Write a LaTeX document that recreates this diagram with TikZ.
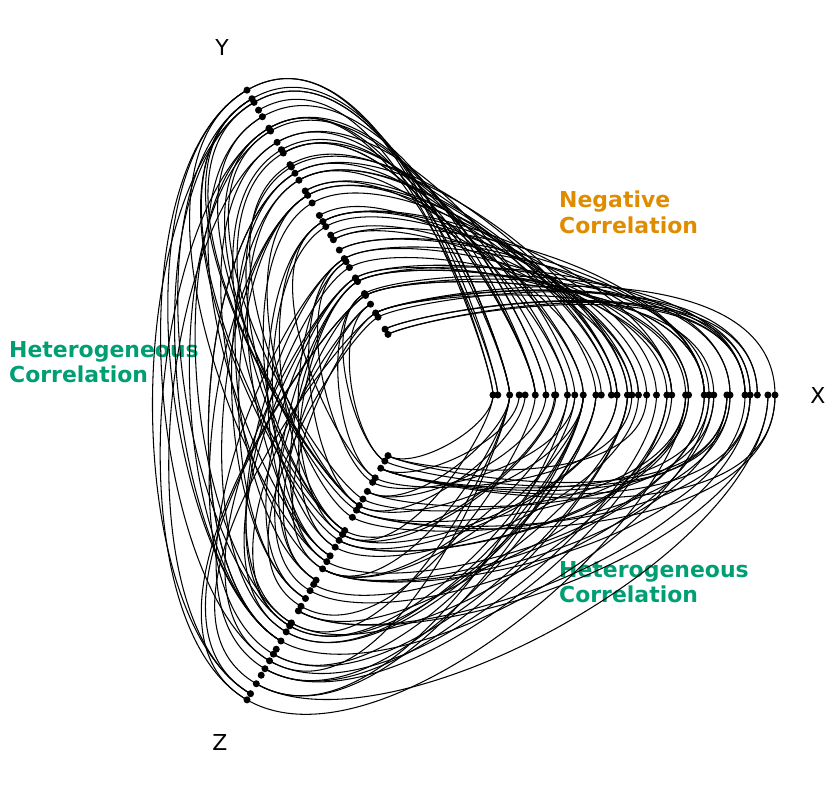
\documentclass[tikz,border=0pt]{standalone}
\usepackage{fontspec}
\setmainfont{DejaVu Sans}
\usetikzlibrary{positioning, calc}
\definecolor{negcolor}{RGB}{224,140,0}
\definecolor{hetcolor}{RGB}{0,158,115}
\tikzset{
  dot/.style={circle, fill=black, inner sep=0pt, minimum size=4pt},
  edge/.style={black, line width=0.6pt},
  axislabel/.style={font=\fontsize{12.5}{14}\selectfont},
  grouplabel/.style={font=\fontsize{12.5}{14.5}\selectfont\bfseries, align=left, anchor=north west}
}
\begin{document}
\begin{tikzpicture}[x=0.02cm, y=0.02cm]
\useasboundingbox (0,-790) rectangle (835,0);

% Axis labels
\node[axislabel] (labx) at (818,-395) {X};
\node[axislabel] (laby) at (222,-47) {Y};
\node[axislabel] (labz) at (220,-742) {Z};

% Group labels
\node[grouplabel, text=negcolor] (neg) at (553,-185) {Negative\\Correlation};
\node[grouplabel, text=hetcolor] (hetl) at (3,-335) {Heterogeneous\\Correlation};
\node[grouplabel, text=hetcolor] (hetr) at (553,-555) {Heterogeneous\\Correlation};

\begin{scope}[shift={(423,-395)}]
\pgfmathsetseed{4711}
% Radii of the dots on each axis
\foreach \ax in {x,y,z}{
  \foreach \i in {1,...,35}{
    \pgfmathsetmacro\r{70+282*(\i-1)/34+(\i>1)*(\i<35)*4*rand}
    \expandafter\xdef\csname r\ax\i\endcsname{\r}
  }
}
% Edges X-Y (negative)
\foreach \k in {1,...,60}{
  \pgfmathrandominteger{\i}{1}{35}\pgfmathrandominteger{\d}{-4}{4}
  \pgfmathtruncatemacro\j{max(1,min(35,36-\i+\d))}
  \edef\ra{\csname rx\i\endcsname}\edef\rb{\csname ry\j\endcsname}
  \draw[edge] (0:\ra) .. controls ($(0:\ra)+(90:0.45*\ra)$)
    and ($(120:\rb)+(30:0.45*\rb)$) .. (120:\rb);
}
% Edges Y-Z and Z-X (heterogeneous)
\foreach \aa/\ab/\angA/\angB in {y/z/120/240, z/x/240/360}{
  \foreach \k in {1,...,60}{
    \pgfmathrandominteger{\i}{1}{35}\pgfmathrandominteger{\j}{1}{35}
    \edef\ra{\csname r\aa\i\endcsname}\edef\rb{\csname r\ab\j\endcsname}
    \draw[edge] (\angA:\ra) .. controls ($(\angA:\ra)+(\angA+90:0.45*\ra)$)
      and ($(\angB:\rb)+(\angB-90:0.45*\rb)$) .. (\angB:\rb);
  }
}
% Dots on the axes
\foreach \ax/\ang in {x/0,y/120,z/240}{
  \foreach \i in {1,...,35}{
    \node[dot] (\ax\i) at (\ang:\csname r\ax\i\endcsname) {};
  }
}
\end{scope}
\end{tikzpicture}
\end{document}
